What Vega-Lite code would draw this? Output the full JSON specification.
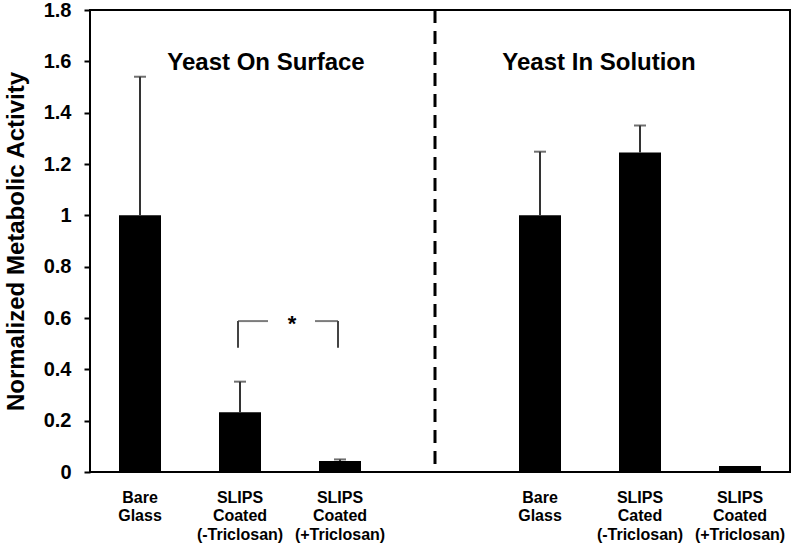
{
  "$schema": "https://vega.github.io/schema/vega-lite/v6.json",
  "width": 700,
  "height": 462,
  "autosize": {"type": "none"},
  "padding": {"left": 90, "top": 10, "right": 10, "bottom": 82},
  "background": "white",
  "config": {
    "font": "Liberation Sans",
    "view": {"stroke": "black", "strokeWidth": 2}
  },
  "datasets": {
    "bars": [
      {"key": "1|Bare|Glass", "value": 1.0, "hi": 1.54},
      {"key": "2|SLIPS|Coated|(-Triclosan)", "value": 0.233, "hi": 0.352},
      {"key": "3|SLIPS|Coated|(+Triclosan)", "value": 0.043, "hi": 0.049},
      {"key": "5|Bare|Glass", "value": 1.0, "hi": 1.248},
      {"key": "6|SLIPS|Cated|(-Triclosan)", "value": 1.245, "hi": 1.35},
      {"key": "7|SLIPS|Coated|(+Triclosan)", "value": 0.023, "hi": null}
    ]
  },
  "layer": [
    {
      "data": {"name": "bars"},
      "mark": {"type": "bar", "color": "black", "width": {"band": 0.42}},
      "encoding": {
        "x": {
          "field": "key",
          "type": "nominal",
          "title": null,
          "scale": {
            "domain": ["1|Bare|Glass", "2|SLIPS|Coated|(-Triclosan)", "3|SLIPS|Coated|(+Triclosan)", "4|", "5|Bare|Glass", "6|SLIPS|Cated|(-Triclosan)", "7|SLIPS|Coated|(+Triclosan)"],
            "paddingInner": 0,
            "paddingOuter": 0
          },
          "axis": {
            "labelExpr": "slice(split(datum.label, '|'), 1)",
            "labelAngle": 0,
            "ticks": false,
            "domain": false,
            "labelFont": "Liberation Sans",
            "labelFontWeight": "bold",
            "labelFontSize": 16,
            "labelLineHeight": 18.5,
            "labelPadding": 17,
            "labelColor": "black",
            "labelOverlap": false,
            "labelBound": false
          }
        },
        "y": {
          "field": "value",
          "type": "quantitative",
          "scale": {"domain": [0, 1.8], "nice": false},
          "axis": {
            "values": [0, 0.2, 0.4, 0.6, 0.8, 1, 1.2, 1.4, 1.6, 1.8],
            "format": ".1~f",
            "grid": false,
            "domain": false,
            "tickSize": 6,
            "tickWidth": 2,
            "tickColor": "black",
            "labelFontSize": 20,
            "labelFontWeight": "bold",
            "labelPadding": 13,
            "labelColor": "black",
            "title": "Normalized Metabolic Activity",
            "titleFontSize": 24,
            "titleFontWeight": "bold",
            "titleColor": "black",
            "titlePadding": 15
          }
        }
      }
    },
    {
      "data": {"name": "bars"},
      "transform": [{"filter": "datum.hi != null"}],
      "mark": {"type": "rule", "color": "#333333", "strokeWidth": 2},
      "encoding": {
        "x": {"field": "key", "type": "nominal"},
        "y": {"field": "value", "type": "quantitative"},
        "y2": {"field": "hi"}
      }
    },
    {
      "data": {"name": "bars"},
      "transform": [{"filter": "datum.hi != null"}],
      "mark": {"type": "tick", "color": "#333333", "size": 12, "thickness": 2},
      "encoding": {
        "x": {"field": "key", "type": "nominal"},
        "y": {"field": "hi", "type": "quantitative"}
      }
    },
    {
      "data": {"values": [{"key": "4|"}]},
      "mark": {"type": "rule", "color": "black", "strokeWidth": 3, "strokeDash": [13, 8]},
      "encoding": {
        "x": {"field": "key", "type": "nominal", "bandPosition": 0.45}
      }
    },
    {
      "data": {"values": [
        {"key": "2|SLIPS|Coated|(-Triclosan)", "top": 0.588, "bottom": 0.484},
        {"key": "3|SLIPS|Coated|(+Triclosan)", "top": 0.588, "bottom": 0.484}
      ]},
      "mark": {"type": "rule", "color": "#444444", "strokeWidth": 2},
      "encoding": {
        "x": {"field": "key", "type": "nominal", "bandPosition": 0.48},
        "y": {"field": "top", "type": "quantitative"},
        "y2": {"field": "bottom"}
      }
    },
    {
      "data": {"values": [{"key": "2|SLIPS|Coated|(-Triclosan)", "y": 0.588}]},
      "mark": {"type": "tick", "color": "#444444", "size": 30, "thickness": 2, "xOffset": 13},
      "encoding": {
        "x": {"field": "key", "type": "nominal"},
        "y": {"field": "y", "type": "quantitative"}
      }
    },
    {
      "data": {"values": [{"key": "3|SLIPS|Coated|(+Triclosan)", "y": 0.588}]},
      "mark": {"type": "tick", "color": "#444444", "size": 23, "thickness": 2, "xOffset": -13.5},
      "encoding": {
        "x": {"field": "key", "type": "nominal"},
        "y": {"field": "y", "type": "quantitative"}
      }
    },
    {
      "data": {"values": [{"key": "3|SLIPS|Coated|(+Triclosan)", "y": 0.548, "label": "*"}]},
      "mark": {"type": "text", "color": "black", "fontSize": 22, "fontWeight": "bold", "baseline": "alphabetic", "align": "center"},
      "encoding": {
        "x": {"field": "key", "type": "nominal", "bandPosition": 0.02},
        "y": {"field": "y", "type": "quantitative"},
        "text": {"field": "label"}
      }
    },
    {
      "data": {"values": [{"key": "2|SLIPS|Coated|(-Triclosan)", "y": 1.568, "label": "Yeast On Surface"}]},
      "mark": {"type": "text", "color": "black", "fontSize": 24, "fontWeight": "bold", "baseline": "alphabetic", "align": "center"},
      "encoding": {
        "x": {"field": "key", "type": "nominal", "bandPosition": 0.76},
        "y": {"field": "y", "type": "quantitative"},
        "text": {"field": "label"}
      }
    },
    {
      "data": {"values": [{"key": "6|SLIPS|Cated|(-Triclosan)", "y": 1.568, "label": "Yeast In Solution"}]},
      "mark": {"type": "text", "color": "black", "fontSize": 24, "fontWeight": "bold", "baseline": "alphabetic", "align": "center"},
      "encoding": {
        "x": {"field": "key", "type": "nominal", "bandPosition": 0.09},
        "y": {"field": "y", "type": "quantitative"},
        "text": {"field": "label"}
      }
    }
  ]
}
